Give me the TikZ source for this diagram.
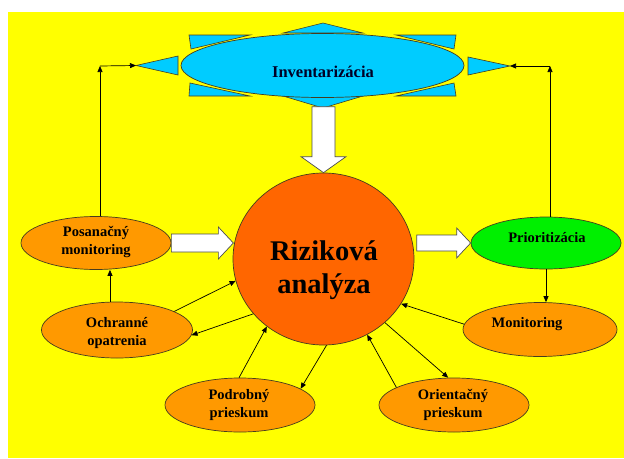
\documentclass[tikz,border=0pt]{standalone}
\usepackage{fontspec}
\setmainfont{Liberation Serif}
\usetikzlibrary{shapes.geometric,arrows.meta,calc}
\definecolor{bgyellow}{RGB}{255,255,0}
\definecolor{cyanfill}{RGB}{0,204,255}
\definecolor{orangefill}{RGB}{255,153,0}
\definecolor{redorange}{RGB}{255,102,0}
\definecolor{greenfill}{RGB}{0,240,0}
\definecolor{edgecol}{RGB}{70,60,30}
\begin{document}
\begin{tikzpicture}[x=1pt,y=-1pt,
  oval/.style={ellipse, draw=edgecol, line width=0.7pt, inner sep=0pt, fill=orangefill, minimum width=150pt, minimum height=53pt},
  lbl/.style={font=\bfseries\fontsize{14.5}{18}\selectfont, align=center},
  conn/.style={draw=black, line width=0.7pt, -{Triangle[length=6pt,width=5pt]}},
  ray/.style={draw=edgecol, line width=0.6pt, fill=cyanfill},
  blockarrow/.style={draw=gray!60!black, line width=0.7pt, fill=white}]
\useasboundingbox (0,0) rectangle (624,458);
\fill[white] (0,0) rectangle (624,458);
\fill[bgyellow] (8,12) rectangle (624,458);
% rays around Inventarizacia
\draw[ray] (283,33) -- (323,23) -- (363,33) -- cycle;
\draw[ray] (283,96) -- (323,108) -- (363,96) -- cycle;
\draw[ray] (189,35) -- (250,35) -- (191,49) -- cycle;
\draw[ray] (396,35) -- (456,35) -- (454,49) -- cycle;
\draw[ray] (190,83) -- (189,96) -- (250,96) -- cycle;
\draw[ray] (454,83) -- (456,96) -- (396,96) -- cycle;
\draw[ray] (178,56) -- (178,75) -- (136,65.5) -- cycle;
\draw[ray] (468,57) -- (468,75) -- (510,66) -- cycle;
\coordinate (ltip) at (136,65.5);
\coordinate (rtip) at (510,66);
\node[ellipse, draw=edgecol, line width=0.7pt, fill=cyanfill, minimum width=283pt, minimum height=64pt, inner sep=0pt] (inv) at (322.5,65.5) {};
\node[font=\bfseries\fontsize{16.5}{20}\selectfont, text=black!85!blue] (invtext) at (323,72) {Inventarizácia};
% main circle
\node[ellipse, draw=edgecol, line width=0.7pt, fill=redorange, minimum width=181pt, minimum height=172pt, inner sep=0pt] (ra) at (323.5,259) {};
\node[font=\bfseries\fontsize{28.5}{33}\selectfont, align=center] (ratext) at (324,270) {Riziková\\analýza};
% down block arrow
\draw[blockarrow] ($(ra.north)+(-11.5,-66)$) -- ($(ra.north)+(11.5,-66)$) -- ($(ra.north)+(11.5,-16)$) -- ($(ra.north)+(22.5,-16)$) -- (ra.north) -- ($(ra.north)+(-22.5,-16)$) -- ($(ra.north)+(-11.5,-16)$) -- cycle;
% satellites
\node[oval] (pos) at (96,243) {};
\node[lbl] (postext) at (96,242) {Posanačný\\monitoring};
\node[oval, minimum width=151pt, minimum height=56pt] (och) at (117,330) {};
\node[lbl] (ochtext) at (117,333) {Ochranné\\opatrenia};
\node[oval, minimum height=54pt] (pod) at (240,405) {};
\node[lbl] (podtext) at (239,405) {Podrobný\\prieskum};
\node[oval, minimum height=54pt] (ori) at (454,405) {};
\node[lbl] (oritext) at (453,405) {Orientačný\\prieskum};
\node[oval, minimum width=154pt, minimum height=54pt] (mon) at (540,329.5) {};
\node[lbl] (montext) at (527,324) {Monitoring};
\node[oval, fill=greenfill, minimum height=52pt] (pri) at (546,243) {};
\node[lbl] (pritext) at (547,238) {Prioritizácia};
% block arrows
\draw[blockarrow] ($(pos.east)+(0,-9)$) -- ++(47,0) -- ++(0,-7) -- ($(pos.east)+(62,0)$) -- ++(-15,16) -- ++(0,-7) -- ($(pos.east)+(0,9)$) -- cycle;
\draw[blockarrow] (pri.west) -- ++(-14,-15) -- ++(0,7) -- ++(-40,0) -- ++(0,16) -- ++(40,0) -- ++(0,7) -- cycle;
% connectors
\draw[conn] (och.18) -- (ra.194);
\draw[conn] (ra.218) -- (och.356);
\draw[conn] (pod.92) -- (ra.230);
\draw[conn] (ra.272) -- (pod.15);
\draw[conn] (ori.163) -- (ra.300);
\draw[conn] (ra.314) -- (ori.102);
\draw[conn] (mon.176) -- (ra.330);
\draw[conn] (och.104) -- (och.104 |- pos.south);
\draw[conn] (pri.south) -- (pri.south |- mon.north);
\coordinate (lc) at (100,66);
\draw[conn] (pos.north -| lc) -- (lc);
\draw[conn] (lc) -- (ltip);
\coordinate (rc) at (550,66);
\draw[conn] (pri.north -| rc) -- (rc);
\draw[conn] (rc) -- (rtip);
\end{tikzpicture}
\end{document}
